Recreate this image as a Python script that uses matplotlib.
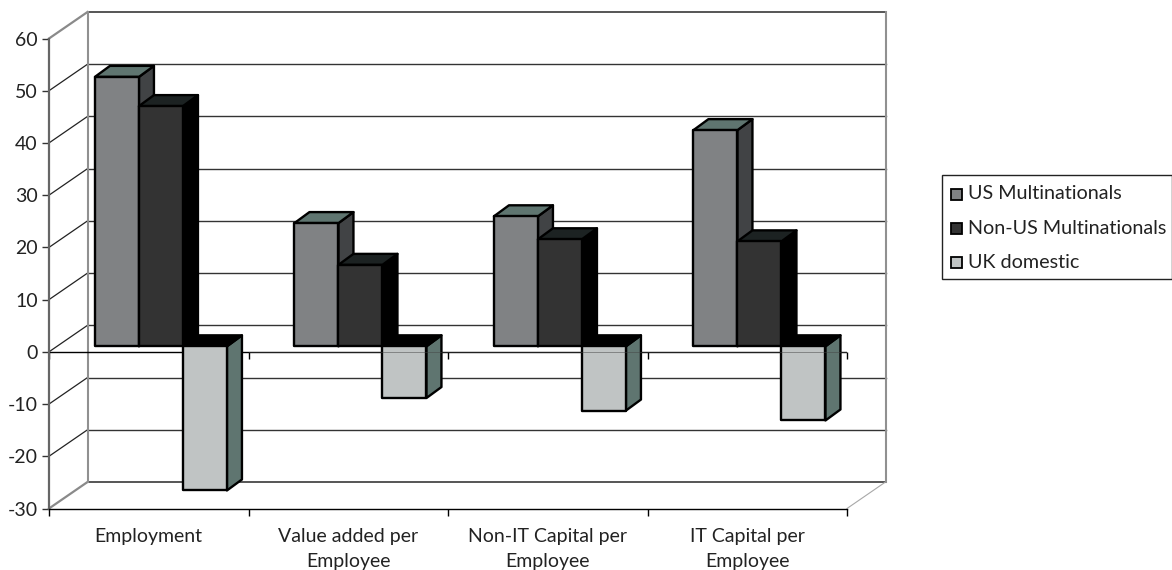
import matplotlib
matplotlib.use("Agg")
import matplotlib.pyplot as plt
from matplotlib.patches import Polygon, Rectangle

plt.rcParams['font.family'] = ['Lato', 'DejaVu Sans']
plt.rcParams['axes.unicode_minus'] = False

categories = ["Employment", "Value added per\nEmployee", "Non-IT Capital per\nEmployee", "IT Capital per\nEmployee"]
series_names = ["US Multinationals", "Non-US Multinationals", "UK domestic"]
us_multi = [51.6, 23.6, 24.9, 41.4]
non_us_multi = [46.0, 15.6, 20.5, 20.1]
uk_domestic = [-27.6, -9.9, -12.3, -14.2]
y_ticks = [60, 50, 40, 30, 20, 10, 0, -10, -20, -30]

W, H = 1172, 570
fig = plt.figure(figsize=(W / 100, H / 100), dpi=100)

# front plane of the fake 3d box, in pixels
left, right, top, bottom = 49, 847, 38.5, 508.5
ax = fig.add_axes([left / W, 1 - bottom / H, (right - left) / W, (bottom - top) / H])
ax.set_xlim(0, 4)
ax.set_ylim(-30, 60)
ax.patch.set_visible(False)

# pixels to data units
px_x = 4 / (right - left)
px_y = 90 / (bottom - top)
wall_dx, wall_dy = 38.5 * px_x, 26.5 * px_y
bar_off_x, bar_off_y = 12.2 * px_x, 5.5 * px_y
depth_x, depth_y = 15 * px_x, 11 * px_y
bar_w = 44 * px_x

# walls and gridlines
for v in y_ticks:
    edge = v in (60, -30)
    col = "#555555" if edge else "#333333"
    ax.plot([wall_dx, 4 + wall_dx], [v + wall_dy, v + wall_dy], color=col, lw=1.4 if edge else 1.0, zorder=1, clip_on=False)
    ax.plot([0, wall_dx], [v, v + wall_dy], color="#8a8a8a" if edge else "#222222", lw=1.6 if edge else 0.9, zorder=1, clip_on=False)
for x in (wall_dx, 4 + wall_dx):
    ax.plot([x, x], [-30 + wall_dy, 60 + wall_dy], color="#909090", lw=1.5, zorder=1.2, clip_on=False)
ax.plot([4, 4 + wall_dx], [-30, -30 + wall_dy], color="#a8a8a8", lw=0.8, zorder=1, clip_on=False)

# zero line with its ticks
ax.plot([0, 4], [0, 0], color="black", lw=1.0, zorder=1.5)
ax.vlines(range(5), -7 * px_y, 0, color="black", lw=1.0, zorder=1.5, clip_on=False)


def draw_bar(x0, val, front, top_col, side_col, z):
    base = bar_off_y
    y_top = base + max(val, 0)
    y_low = base + min(val, 0)
    x1 = x0 + bar_w
    ec = dict(edgecolor="black", linewidth=1.7, joinstyle="round", zorder=z, clip_on=False)
    ax.add_patch(Polygon([(x1, y_low), (x1 + depth_x, y_low + depth_y), (x1 + depth_x, y_top + depth_y), (x1, y_top)], facecolor=side_col, **ec))
    ax.add_patch(Polygon([(x0, y_top), (x0 + depth_x, y_top + depth_y), (x1 + depth_x, y_top + depth_y), (x1, y_top)], facecolor=top_col, **ec))
    ax.add_patch(Rectangle((x0, y_low), bar_w, y_top - y_low, facecolor=front, **ec))


styles = [("#808284", "#5f7570", "#414345"), ("#333333", "#1c2222", "#000000"), ("#c0c4c4", "#000000", "#5f7570")]
all_series = [us_multi, non_us_multi, uk_domestic]
for i in range(len(categories)):
    start = i + 0.5 + bar_off_x - 1.5 * bar_w
    for j, vals in enumerate(all_series):
        fc, tc, sc = styles[j]
        draw_bar(start + j * bar_w, vals[i], fc, tc, sc, 3 + i + j * 0.1)

# the zero line shows faintly through the later bars
ax.plot([1, 4], [0, 0], color="#444444", lw=0.7, alpha=0.5, zorder=8)

# axes
for s in ("top", "right"):
    ax.spines[s].set_visible(False)
ax.spines["left"].set_color("#666666")
ax.spines["left"].set_linewidth(1.6)
ax.spines["bottom"].set_color("black")
ax.spines["bottom"].set_linewidth(1.0)
ax.set_yticks(y_ticks)
ax.tick_params(axis="y", length=5, width=1.0, color="#333333", labelcolor="#222222", labelsize=14, pad=3)
ax.set_xticks(range(5))
ax.set_xticklabels([])
ax.tick_params(axis="x", which="major", length=5, width=1.0, color="black")
ax.set_xticks([0.5, 1.5, 2.5, 3.5], minor=True)
ax.set_xticklabels(categories, minor=True, fontsize=14, color="#222222", linespacing=1.58)
ax.tick_params(axis="x", which="minor", length=0, pad=14)

# legend box
fig.add_artist(Rectangle((941.5 / W, 1 - 279 / H), 230 / W, 104 / H, transform=fig.transFigure, facecolor="white", edgecolor="#222222", linewidth=1.0))
for j, name in enumerate(series_names):
    yc = 194 + 34 * j
    fig.add_artist(Rectangle((950.5 / W, 1 - (yc + 5.5) / H), 11 / W, 11 / H, transform=fig.transFigure, facecolor=styles[j][0], edgecolor="black", linewidth=1.3))
    fig.text(968 / W, 1 - yc / H, name, fontsize=14.2, color="#222222", va="center", ha="left")

fig.savefig("out.png", dpi=100)
